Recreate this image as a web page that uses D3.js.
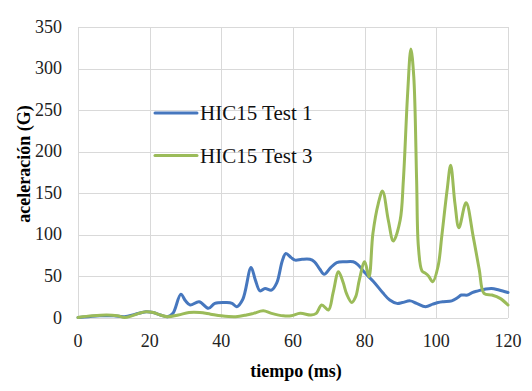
<!DOCTYPE html>
<html>
<head>
<meta charset="utf-8">
<script src="https://cdn.jsdelivr.net/npm/d3@7"></script>
<style>
  html, body { margin: 0; padding: 0; background: #fff; }
  svg { display: block; }
  .grid line { stroke: #d9d9d9; stroke-width: 1; shape-rendering: crispEdges; }
</style>
</head>
<body>
<div id="chart"></div>
<script>
(function() {
    'use strict';

    // Ticks
    var xTicks = [0, 20, 40, 60, 80, 100, 120];
    var yTicks = [0, 50, 100, 150, 200, 250, 300, 350];

    // HIC15 Test 1 (tiempo ms, aceleración G)
    var tiempo1 = [0, 3, 6, 10, 13, 16, 19, 21, 23, 25, 26.5, 28.7, 30, 31.3, 33.8, 36.4, 38.2, 41.5, 43, 44.3,
        46, 48.3, 49.5, 50.8, 52.2, 54, 55.5, 57, 58, 59.5, 60.6, 62.5, 64.7, 66, 67.5, 68.7, 70.5, 72.2, 74.5, 76.8,
        78, 80, 82.5, 85, 87, 89, 90.5, 92.7, 94.5, 97, 99, 100.5, 102, 104.3, 106, 107, 108.7, 110, 111.6, 113.5,
        115.4, 117.5, 120];
    var test1 = [0, 1, 2, 2, 1, 4, 7, 6, 3, 1, 5, 28, 20, 15, 19, 11, 17, 18, 17, 13,
        22, 60, 45, 32, 35, 33, 42, 68, 77, 72, 69, 70, 70, 67, 58, 52, 60, 66, 67, 67,
        64, 54, 43, 30, 21, 17, 18, 20, 17, 13, 16, 18, 19, 20, 24, 27, 27, 30, 32, 34,
        35, 33, 30];

    // HIC15 Test 3
    var tiempo3 = [0, 4, 8, 11, 13, 15, 17, 19, 21, 23, 25, 28, 31, 34, 37, 40, 44, 47, 49, 51.7,
        54, 57.3, 59.5, 62, 65, 66.5, 68, 69.9, 71.2, 72.7, 74, 75, 76.4, 77.5, 78.5, 80, 81.2, 82.3, 83.8, 85,
        86.6, 88, 89.9, 90.8, 92, 92.9, 93.7, 94.5, 95, 96, 97, 97.8, 99, 100.5, 101.5, 103, 104, 105.2, 106.3, 108.3,
        110.3, 112, 113.3, 115.5, 117.8, 120];
    var test3 = [0, 2, 3, 2, 0, 2, 5, 7, 6, 3, 1, 3, 6, 6, 4, 2, 1, 3, 5, 8,
        5, 2, 2, 5, 3, 5, 15, 9, 30, 55, 42, 28, 18, 25, 45, 67, 49, 101, 137, 152,
        117, 92, 117, 165, 270, 323, 290, 165, 85, 56, 53, 50, 43, 62, 97, 153, 183, 137, 108, 138,
        97, 57, 29, 27, 23, 15];

    var seriesNames = ['HIC15 Test 1', 'HIC15 Test 3'];
    var seriesColors = ['#4677be', '#9bbb59'];

    var serif = "'Liberation Serif', 'Times New Roman', serif";

    var width = 532, height = 391;
    var margin = { top: 26.5, right: 24, bottom: 73.5, left: 78 };
    var innerWidth = width - margin.left - margin.right;
    var innerHeight = height - margin.top - margin.bottom;

    var x = d3.scaleLinear().domain([0, 120]).range([0, innerWidth]);
    var y = d3.scaleLinear().domain([0, 350]).range([innerHeight, 0]);

    var svg = d3.select('#chart').append('svg')
        .attr('width', width)
        .attr('height', height);

    var g = svg.append('g')
        .attr('transform', 'translate(' + margin.left + ',' + margin.top + ')');

    // Grid
    var grid = g.append('g').attr('class', 'grid');
    grid.selectAll('.hg').data(yTicks).join('line')
        .attr('x1', 0).attr('x2', innerWidth)
        .attr('y1', function(d) { return Math.round(y(d)) + 0.5; })
        .attr('y2', function(d) { return Math.round(y(d)) + 0.5; });
    grid.selectAll('.vg').data(xTicks).join('line')
        .attr('y1', 0).attr('y2', innerHeight)
        .attr('x1', function(d) { return Math.round(x(d)) + 0.5; })
        .attr('x2', function(d) { return Math.round(x(d)) + 0.5; });

    // Tick labels
    g.append('g').selectAll('text').data(yTicks).join('text')
        .attr('font-family', serif)
        .attr('font-size', 18)
        .attr('fill', '#222')
        .attr('x', -16)
        .attr('y', function(d) { return y(d); })
        .attr('dy', '0.34em')
        .attr('text-anchor', 'end')
        .text(function(d) { return d; });

    g.append('g').selectAll('text').data(xTicks).join('text')
        .attr('font-family', serif)
        .attr('font-size', 18)
        .attr('fill', '#222')
        .attr('x', function(d) { return x(d); })
        .attr('y', innerHeight + 29)
        .attr('text-anchor', 'middle')
        .text(function(d) { return d; });

    // Axis titles
    svg.append('text')
        .attr('font-family', serif)
        .attr('font-size', 18)
        .attr('font-weight', 'bold')
        .attr('x', 296)
        .attr('y', 377)
        .attr('text-anchor', 'middle')
        .text('tiempo (ms)');

    svg.append('text')
        .attr('font-family', serif)
        .attr('font-size', 18)
        .attr('font-weight', 'bold')
        .attr('transform', 'translate(30,164) rotate(-90)')
        .attr('text-anchor', 'middle')
        .text('aceleración (G)');

    // Lines
    var line = d3.line()
        .x(function(d) { return x(d[0]); })
        .y(function(d) { return y(d[1]); })
        .curve(d3.curveCatmullRom.alpha(0.5));

    var series = [d3.zip(tiempo1, test1), d3.zip(tiempo3, test3)];

    g.selectAll('.serie').data(series).join('path')
        .attr('class', 'serie')
        .attr('fill', 'none')
        .attr('stroke', function(d, i) { return seriesColors[i]; })
        .attr('stroke-width', 3)
        .attr('stroke-linejoin', 'round')
        .attr('stroke-linecap', 'round')
        .attr('d', line);

    // Legend
    var legend = svg.append('g').attr('transform', 'translate(155,113)');
    seriesNames.forEach(function(name, i) {
        var row = legend.append('g').attr('transform', 'translate(0,' + (i * 42.5) + ')');
        row.append('line')
            .attr('x1', 0).attr('x2', 42)
            .attr('y1', 0).attr('y2', 0)
            .attr('stroke', seriesColors[i])
            .attr('stroke-width', 3)
            .attr('stroke-linecap', 'round');
        row.append('text')
            .attr('font-family', serif)
            .attr('font-size', 21)
            .attr('fill', '#111')
            .attr('x', 45)
            .attr('y', 7)
            .text(name);
    });
})();
</script>
</body>
</html>
